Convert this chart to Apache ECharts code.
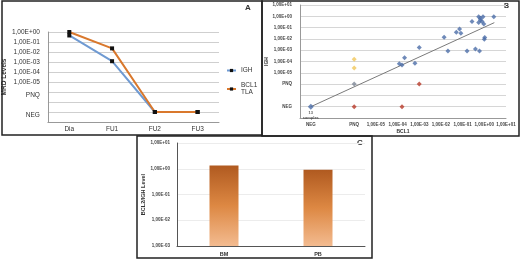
<!DOCTYPE html>
<html>
<head>
<meta charset="utf-8">
<script src="https://cdn.jsdelivr.net/npm/echarts@6/dist/echarts.min.js"></script>
<style>
  html, body { margin: 0; padding: 0; background: #fff; }
  #chart { width: 520px; height: 260px; }
</style>
</head>
<body>
<div id="chart"></div>
<script>
// Panel A - MRD follow-up
const mrdTimepoints = ['Dia', 'FU1', 'FU2', 'FU3'];
const mrdIGH = [4.5e-1, 1.2e-3, 'NEG', 'NEG'];
const mrdBCL1 = [1.0e0, 2.3e-2, 'NEG', 'NEG'];

// Panel B - BCL1 (x) vs IGH (y)
const samplesBlue = [
  [1.0e-3, 1.7e-3], [2.1e-4, 2.1e-4], [1.2e-4, 6.3e-5], [1.6e-4, 5.0e-5], [6.3e-4, 7.1e-5],
  [1.4e-2, 1.4e-2], [2.1e-2, 8.7e-4], [5.1e-2, 3.9e-2], [7.2e-2, 7.6e-2], [8.3e-2, 3.2e-2],
  [1.6e-1, 8.7e-4], [2.7e-1, 3.4e-1], [3.9e-1, 1.3e-3], [6.0e-1, 8.7e-4], [1.0, 9.3e-3],
  [1.05, 1.3e-2], [5.5e-1, 9.3e-1], [6.6e-1, 6.8e-1], [8.7e-1, 9.3e-1], [6.6e-1, 4.8e-1],
  [7.9e-1, 3.4e-1], [5.5e-1, 2.8e-1], [9.5e-1, 2.1e-1], [2.75, 9.3e-1]
];
const samplesNegNeg = [['NEG', 'NEG']];
const samplesPnqPnq = [['PNQ', 'PNQ']];
const samplesYellow = [['PNQ', 1.6e-4], ['PNQ', 2.6e-5]];
const samplesRed = [['PNQ', 'NEG'], [1.6e-4, 'NEG'], [1.0e-3, 'PNQ']];
const trendLine = [['NEG', 'NEG'], [2.9, 2.75e-1]];

// Panel C - BCL2/IGH level
const tissues = ['BM', 'PB'];
const bcl2Levels = [1.35, 0.91];

// text levels sit at fixed decades on the log axes
const levelPos = { PNQ: -6, NEG: -8 };
const toExp = v => (typeof v === 'string' ? levelPos[v] : Math.log10(v));
const fmtE = e => '1,00E' + (e < 0 ? '-' : '+') + String(Math.abs(e)).padStart(2, '0');

const FONT = 'Liberation Sans, Arial, sans-serif';
const toPair = arr => arr.map(p => [toExp(p[0]), toExp(p[1])]);

const chart = echarts.init(document.getElementById('chart'));

const option = {
  animation: false,
  textStyle: { fontFamily: FONT },
  grid: [
    { left: 45, right: 301, top: 32, bottom: 138 },
    { left: 300, right: 14, top: 5, bottom: 142 },
    { left: 177, right: 155, top: 143, bottom: 14 }
  ],
  legend: {
    orient: 'vertical',
    left: 226,
    top: 67,
    padding: 0,
    itemWidth: 9,
    itemHeight: 4,
    itemGap: 8,
    textStyle: { fontSize: 6.5, color: '#333', fontFamily: FONT, lineHeight: 7 },
    formatter: name => (name === 'BCL1 TLA' ? 'BCL1\nTLA' : name),
    data: ['IGH', 'BCL1 TLA']
  },
  xAxis: [
    {
      gridIndex: 0,
      type: 'category',
      data: mrdTimepoints,
      boundaryGap: true,
      axisLine: { onZero: false, lineStyle: { color: '#999' } },
      axisTick: { show: false },
      axisLabel: { fontSize: 6.5, color: '#333', margin: 4 }
    },
    {
      gridIndex: 1,
      type: 'value',
      min: -8.5,
      max: 1,
      name: 'BCL1',
      nameLocation: 'middle',
      nameGap: 11,
      nameTextStyle: { fontSize: 5, fontWeight: 'bold', color: '#333' },
      axisLine: { onZero: false, lineStyle: { color: '#999' } },
      axisTick: { show: false },
      splitLine: { show: false },
      axisLabel: {
        fontSize: 4.5,
        color: '#444',
        fontWeight: 'bold',
        margin: 4,
        customValues: [-8, -6, -5, -4, -3, -2, -1, 0, 1],
        formatter: v => (v === -8 ? 'NEG' : v === -6 ? 'PNQ' : fmtE(Math.round(v)))
      }
    },
    {
      gridIndex: 2,
      type: 'category',
      data: tissues,
      axisLine: { onZero: false, lineStyle: { color: '#555' } },
      axisTick: { show: false },
      axisLabel: { fontSize: 5.5, fontWeight: 'bold', color: '#333', margin: 5 }
    }
  ],
  yAxis: [
    {
      gridIndex: 0,
      type: 'value',
      min: -9,
      max: 0,
      interval: 1,
      name: 'MRD Levels',
      nameLocation: 'middle',
      nameRotate: 90,
      nameGap: 33,
      nameTextStyle: { fontSize: 6.5, fontWeight: 'bold', color: '#333' },
      axisLine: { show: true, onZero: false, lineStyle: { color: '#999' } },
      axisTick: { show: false },
      splitLine: { lineStyle: { color: '#cfcfcf' } },
      axisLabel: {
        fontSize: 6.5,
        color: '#333',
        margin: 8,
        formatter: v => {
          if (v === -6) return '{s|PNQ}';
          if (v === -8) return '{s|NEG}';
          if (v < -5) return '';
          return fmtE(v);
        },
        rich: { s: { fontSize: 6.5, color: '#333', padding: [7, 0, 0, 0] } }
      }
    },
    {
      gridIndex: 1,
      type: 'value',
      min: -9,
      max: 1,
      interval: 1,
      name: 'IGH',
      nameLocation: 'middle',
      nameRotate: 90,
      nameGap: 27,
      nameTextStyle: { fontSize: 5, fontWeight: 'bold', color: '#333' },
      axisLine: { show: true, onZero: false, lineStyle: { color: '#999' } },
      axisTick: { show: false },
      splitLine: { lineStyle: { color: '#d6d6d6' } },
      axisLabel: {
        fontSize: 4.5,
        color: '#444',
        fontWeight: 'bold',
        margin: 8,
        formatter: v => {
          if (v === -8) return 'NEG';
          if (v === -6) return 'PNQ';
          if (v < -5) return '';
          return fmtE(v);
        }
      }
    },
    {
      gridIndex: 2,
      type: 'value',
      min: 0,
      max: 4,
      interval: 1,
      name: 'BCL2/IGH Level',
      nameLocation: 'middle',
      nameRotate: 90,
      nameGap: 30,
      nameTextStyle: { fontSize: 5.5, fontWeight: 'bold', color: '#333' },
      axisLine: { show: true, onZero: false, lineStyle: { color: '#555' } },
      axisTick: { show: false },
      splitLine: { lineStyle: { color: '#ececec' } },
      axisLabel: {
        fontSize: 4.5,
        fontWeight: 'bold',
        color: '#444',
        margin: 7,
        formatter: v => fmtE(v - 3)
      }
    }
  ],
  series: [
    {
      name: 'IGH',
      type: 'line',
      xAxisIndex: 0,
      yAxisIndex: 0,
      data: mrdIGH.map(toExp),
      symbol: 'rect',
      symbolSize: 4,
      itemStyle: { color: '#111' },
      lineStyle: { color: '#6f9ad2', width: 2 }
    },
    {
      name: 'BCL1 TLA',
      type: 'line',
      xAxisIndex: 0,
      yAxisIndex: 0,
      data: mrdBCL1.map(toExp),
      symbol: 'rect',
      symbolSize: 4,
      itemStyle: { color: '#111' },
      lineStyle: { color: '#d9782d', width: 2 }
    },
    {
      type: 'line',
      xAxisIndex: 1,
      yAxisIndex: 1,
      data: toPair(trendLine),
      symbol: 'none',
      lineStyle: { color: '#7a7a7a', width: 1 },
      z: 1
    },
    {
      type: 'scatter',
      xAxisIndex: 1,
      yAxisIndex: 1,
      data: toPair(samplesBlue),
      symbol: 'diamond',
      symbolSize: 5,
      itemStyle: { color: '#4b6da8' }
    },
    {
      type: 'scatter',
      xAxisIndex: 1,
      yAxisIndex: 1,
      data: toPair(samplesNegNeg),
      symbol: 'diamond',
      symbolSize: 6,
      itemStyle: { color: '#4b6da8' },
      label: {
        show: true,
        position: 'bottom',
        distance: 1,
        formatter: '13\nsamples',
        fontSize: 4,
        lineHeight: 4.5,
        color: '#333',
        fontWeight: 'bold'
      }
    },
    {
      type: 'scatter',
      xAxisIndex: 1,
      yAxisIndex: 1,
      data: toPair(samplesPnqPnq),
      symbol: 'diamond',
      symbolSize: 5,
      itemStyle: { color: '#7d8796' }
    },
    {
      type: 'scatter',
      xAxisIndex: 1,
      yAxisIndex: 1,
      data: toPair(samplesYellow),
      symbol: 'diamond',
      symbolSize: 5,
      itemStyle: { color: '#f1c75a' }
    },
    {
      type: 'scatter',
      xAxisIndex: 1,
      yAxisIndex: 1,
      data: toPair(samplesRed),
      symbol: 'diamond',
      symbolSize: 5,
      itemStyle: { color: '#b83a28' }
    },
    {
      type: 'bar',
      xAxisIndex: 2,
      yAxisIndex: 2,
      // bars are drawn from the 1,00E-03 floor
      data: bcl2Levels.map(v => Math.log10(v) + 3),
      barWidth: 29,
      itemStyle: {
        color: new echarts.graphic.LinearGradient(0, 0, 0, 1, [
          { offset: 0, color: '#b05a20' },
          { offset: 0.5, color: '#dd8843' },
          { offset: 1, color: '#f3bb90' }
        ])
      }
    }
  ],
  graphic: [
    { type: 'rect', shape: { x: 2, y: 1, width: 260, height: 134 }, style: { fill: 'none', stroke: '#222', lineWidth: 1.5 }, z: 100 },
    { type: 'rect', shape: { x: 262, y: 1, width: 257, height: 135 }, style: { fill: 'none', stroke: '#222', lineWidth: 1.5 }, z: 100 },
    { type: 'rect', shape: { x: 137, y: 136, width: 235, height: 122 }, style: { fill: 'none', stroke: '#222', lineWidth: 1.5 }, z: 100 },
    { type: 'text', left: 245, top: 4, style: { text: 'A', font: 'bold 8px ' + FONT, fill: '#333' } },
    { type: 'text', left: 504, top: 3, style: { text: 'B', font: 'bold 7px ' + FONT, fill: '#333' } },
    { type: 'text', left: 357, top: 139, style: { text: 'C', font: 'bold 8px ' + FONT, fill: '#333' } }
  ]
};

chart.setOption(option);
</script>
</body>
</html>
